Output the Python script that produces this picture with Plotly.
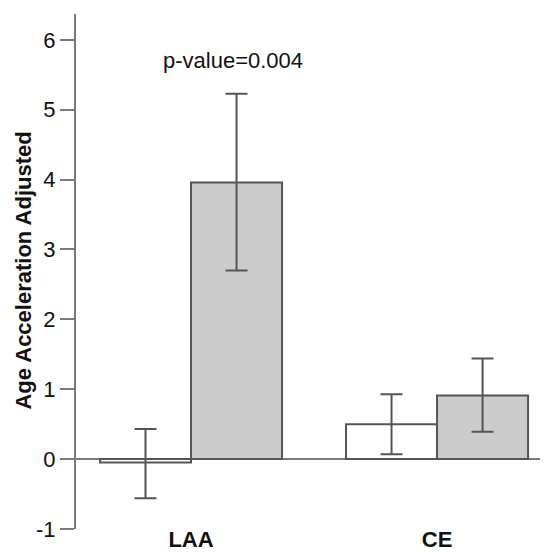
import plotly.graph_objects as go

categories = ["LAA", "CE"]
group1_values = [-0.05, 0.50]
group1_err_plus = [0.48, 0.43]
group1_err_minus = [0.51, 0.43]
group2_values = [3.96, 0.91]
group2_err_plus = [1.27, 0.53]
group2_err_minus = [1.26, 0.52]
y_ticks = [-1, 0, 1, 2, 3, 4, 5, 6]

xpos = list(range(len(categories)))
line_col = "#555555"
axis_col = "#7a7a7a"
font_family = "Liberation Sans, Arial, sans-serif"

fig = go.Figure()
fig.add_trace(go.Bar(
    x=xpos, y=group1_values,
    marker=dict(color="white", line=dict(color=line_col, width=2)),
    error_y=dict(type="data", symmetric=False, array=group1_err_plus,
                 arrayminus=group1_err_minus, color=line_col, thickness=2, width=11),
    showlegend=False,
))
fig.add_trace(go.Bar(
    x=xpos, y=group2_values,
    marker=dict(color="#cccccc", line=dict(color=line_col, width=2)),
    error_y=dict(type="data", symmetric=False, array=group2_err_plus,
                 arrayminus=group2_err_minus, color=line_col, thickness=2, width=11),
    showlegend=False,
))

# page body has an 8px margin, so the figure is offset by 8px
fig.update_layout(
    width=540, height=544,
    margin=dict(l=68, r=0, t=6, b=23),
    paper_bgcolor="white", plot_bgcolor="white",
    barmode="group", bargap=0.26, bargroupgap=0,
    font=dict(family=font_family, size=22, color="#111111"),
    xaxis=dict(
        range=[-0.4675, 1.451], tickmode="array", tickvals=xpos,
        ticktext=["<b>%s</b>" % c for c in categories],
        showline=False, showgrid=False, zeroline=False, ticks="",
        ticklabelstandoff=-5,
        tickfont=dict(size=22, color="#111111"), automargin=False,
    ),
    yaxis=dict(
        range=[-1, 6.37], tickmode="array", tickvals=y_ticks,
        ticktext=[str(v) for v in y_ticks],
        showline=True, linecolor=axis_col, linewidth=2,
        ticks="outside", ticklen=14, tickwidth=2, tickcolor=axis_col,
        showgrid=False, zeroline=True, zerolinecolor=axis_col, zerolinewidth=2,
        tickfont=dict(size=22, color="#111111"), automargin=False,
    ),
    annotations=[
        dict(text="<b>Age Acceleration Adjusted</b>", textangle=-90,
             xref="paper", yref="paper", x=-0.112, y=0.502,
             showarrow=False, font=dict(size=22, color="#111111"),
             xanchor="center", yanchor="middle"),
        dict(text="p-value=0.004", xref="x", yref="y", x=0.17, y=5.7,
             showarrow=False, font=dict(size=22, color="#111111"),
             xanchor="center", yanchor="middle"),
    ],
)

fig.write_html("out.html")
